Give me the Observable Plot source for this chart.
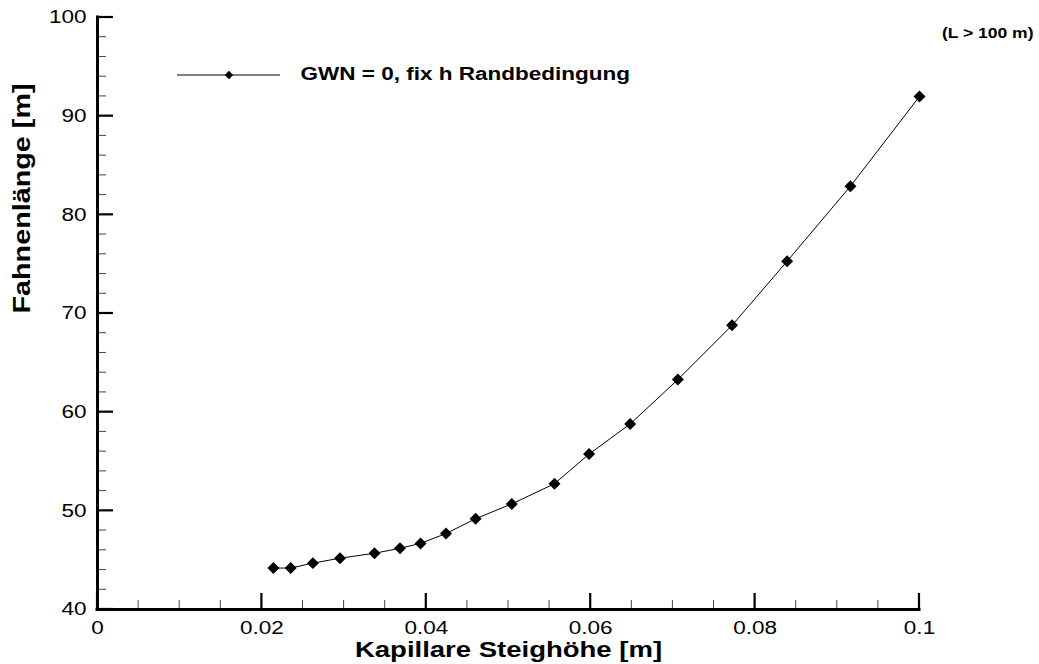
<!DOCTYPE html>
<html>
<head>
<meta charset="utf-8">
<script src="https://cdn.jsdelivr.net/npm/d3@7"></script>
<script src="https://cdn.jsdelivr.net/npm/@observablehq/plot@0.6"></script>
<style>
  html, body { margin: 0; padding: 0; background: #fff; }
</style>
</head>
<body>
<div id="chart"></div>
<script>
// Kapillare Steighöhe [m] gegen Fahnenlänge [m]
const steighoehe = [0.0214, 0.0235, 0.0262, 0.0295, 0.0337, 0.0368, 0.0393, 0.0424, 0.0460,
                    0.0504, 0.0556, 0.0598, 0.0648, 0.0706, 0.0772, 0.0839, 0.0916, 0.1000];
const fahnenlaenge = [44.2, 44.2, 44.7, 45.2, 45.7, 46.2, 46.7, 47.7, 49.2,
                      50.7, 52.75, 55.75, 58.8, 63.3, 68.8, 75.3, 82.9, 92.0];

const seriesName = "GWN = 0, fix h Randbedingung";
const note = "(L > 100 m)";
const xTitle = "Kapillare Steighöhe [m]";
const yTitle = "Fahnenlänge [m]";

const xMajor = [0, 0.02, 0.04, 0.06, 0.08, 0.1];
const xMajorLabels = ["0", "0.02", "0.04", "0.06", "0.08", "0.1"];
const yMajor = [40, 50, 60, 70, 80, 90, 100];
const yMajorLabels = ["40", "50", "60", "70", "80", "90", "100"];
const xMinor = d3.ticks(0, 0.1, 25);
const yMinor = d3.ticks(40, 100, 30);

const rows = steighoehe.map((x, i) => ({x, y: fahnenlaenge[i]}));
const xTickRows = xMajor.map((v, i) => ({v, label: xMajorLabels[i]}));
const yTickRows = yMajor.map((v, i) => ({v, label: yMajorLabels[i]}));

const FONT = "'Liberation Sans', Arial, Helvetica, sans-serif";
const STRETCH = 1.25; // wide Helvetica-like lettering

// inward-pointing ticks on the bottom and left axes, placed by the plot's scales
function inwardTicks(index, scales, values, dims) {
  const g = d3.create("svg:g").attr("fill", "none");
  const y0 = dims.height - dims.marginBottom;
  const x0 = dims.marginLeft;
  const tickX = (list, len, width, color) => {
    for (const v of list) {
      const x = scales.x(v);
      g.append("line").attr("x1", x).attr("x2", x).attr("y1", y0).attr("y2", y0 - len)
        .attr("stroke-width", width).attr("stroke", color);
    }
  };
  const tickY = (list, len, width, color) => {
    for (const v of list) {
      const y = scales.y(v);
      g.append("line").attr("x1", x0).attr("x2", x0 + len).attr("y1", y).attr("y2", y)
        .attr("stroke-width", width).attr("stroke", color);
    }
  };
  tickX(xMinor.filter(v => !xMajor.some(m => Math.abs(m - v) < 1e-9)), 9, 1, "#444");
  tickY(yMinor.filter(v => !yMajor.includes(v)), 9, 1, "#444");
  tickX(xMajor, 16, 2.2, "black");
  tickY(yMajor, 16, 2.2, "black");
  return g.node();
}

// legend sample: thin line with a diamond in the middle
function legendSwatch(index, scales, values, dims) {
  const g = d3.create("svg:g");
  const y = dims.marginTop + 58;
  const x0 = dims.marginLeft + 80;
  g.append("line")
    .attr("x1", x0).attr("x2", x0 + 103)
    .attr("y1", y).attr("y2", y)
    .attr("stroke", "black").attr("stroke-width", 1);
  g.append("path")
    .attr("transform", `translate(${x0 + 52},${y})`)
    .attr("d", d3.symbol(d3.symbolDiamond2, 45)())
    .attr("fill", "black");
  return g.node();
}

const chart = Plot.plot({
  width: 1039,
  height: 664,
  marginLeft: 97,
  marginRight: 120,
  marginTop: 17,
  marginBottom: 55,
  style: {fontFamily: FONT, fontSize: "18px", color: "black", background: "white"},
  x: {domain: [0, 0.1], axis: null},
  y: {domain: [40, 100], axis: null},
  marks: [
    inwardTicks,
    // tick labels
    Plot.text(xTickRows, {x: "v", text: "label", frameAnchor: "bottom", dy: 12, lineAnchor: "top", fontSize: 18}),
    Plot.text(yTickRows, {y: "v", text: "label", frameAnchor: "left", dx: -11, textAnchor: "end", lineAnchor: "middle", fontSize: 18}),
    // axis lines
    Plot.ruleY([40], {strokeWidth: 3, strokeLinecap: "square"}),
    Plot.ruleX([0], {strokeWidth: 3, strokeLinecap: "square"}),
    // series
    Plot.line(rows, {x: "x", y: "y", stroke: "black", strokeWidth: 1}),
    Plot.dot(rows, {x: "x", y: "y", symbol: "diamond2", r: 5.4, fill: "black", stroke: null}),
    // titles
    Plot.text([xTitle], {frameAnchor: "bottom", dy: 40, lineAnchor: "middle", fontSize: 22, fontWeight: "bold"}),
    Plot.text([yTitle], {frameAnchor: "left", dx: -75, rotate: -90, lineAnchor: "middle", fontSize: 23, fontWeight: "bold"}),
    // legend
    legendSwatch,
    Plot.text([seriesName], {frameAnchor: "top-left", dx: 203, dy: 57, textAnchor: "start", lineAnchor: "middle", fontSize: 18, fontWeight: "bold"}),
    Plot.text([note], {frameAnchor: "top-right", dx: 114, dy: 11, textAnchor: "end", lineAnchor: "top", fontSize: 14, fontWeight: "bold"})
  ]
});

document.getElementById("chart").appendChild(chart);

// widen every label along its baseline
for (const t of chart.querySelectorAll("text")) {
  const len = t.getComputedTextLength();
  if (len > 0) {
    t.setAttribute("textLength", (len * STRETCH).toFixed(2));
    t.setAttribute("lengthAdjust", "spacingAndGlyphs");
  }
}
</script>
</body>
</html>
